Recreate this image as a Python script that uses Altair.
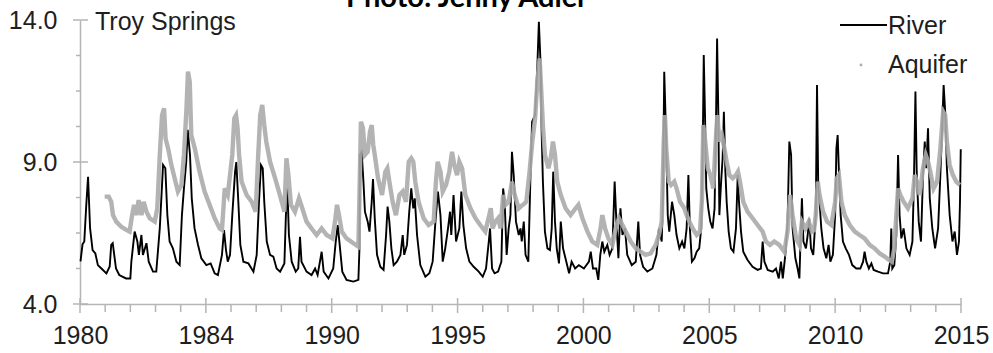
import altair as alt
import pandas as pd

# ---------------- data ----------------
RIVER_YEAR = [
    1980.02, 1980.1, 1980.17, 1980.25, 1980.32, 1980.4, 1980.5, 1980.61, 1980.71, 1980.85,
    1981.05, 1981.18, 1981.24, 1981.3, 1981.43, 1981.56, 1981.83, 1982.0, 1982.04, 1982.17,
    1982.28, 1982.34, 1982.44, 1982.5, 1982.64, 1982.73, 1982.9, 1983.03, 1983.17, 1983.3,
    1983.39, 1983.47, 1983.56, 1983.69, 1983.83, 1983.96, 1984.05, 1984.13, 1984.22, 1984.28,
    1984.37, 1984.44, 1984.55, 1984.69, 1984.82, 1985.02, 1985.19, 1985.35, 1985.48, 1985.64,
    1985.72, 1985.8, 1985.87, 1985.96, 1986.05, 1986.16, 1986.21, 1986.29, 1986.37, 1986.49,
    1986.69, 1986.89, 1987.02, 1987.11, 1987.19, 1987.26, 1987.32, 1987.42, 1987.55, 1987.68,
    1987.81, 1987.95, 1988.12, 1988.18, 1988.24, 1988.3, 1988.41, 1988.57, 1988.67, 1988.74,
    1988.8, 1989.0, 1989.2, 1989.34, 1989.44, 1989.6, 1989.68, 1989.87, 1990.06, 1990.16,
    1990.24, 1990.33, 1990.42, 1990.59, 1990.86, 1991.06, 1991.1, 1991.12, 1991.19, 1991.26,
    1991.32, 1991.43, 1991.5, 1991.59, 1991.64, 1991.71, 1991.8, 1991.93, 1992.06, 1992.16,
    1992.22, 1992.29, 1992.37, 1992.46, 1992.59, 1992.73, 1992.82, 1992.88, 1992.99, 1993.08,
    1993.16, 1993.24, 1993.3, 1993.39, 1993.52, 1993.72, 1993.88, 1994.01, 1994.12, 1994.22,
    1994.32, 1994.41, 1994.51, 1994.62, 1994.7, 1994.75, 1994.84, 1994.94, 1995.07, 1995.15,
    1995.23, 1995.34, 1995.47, 1995.64, 1995.84, 1996.0, 1996.13, 1996.24, 1996.29, 1996.37,
    1996.47, 1996.61, 1996.74, 1996.81, 1996.87, 1996.95, 1997.03, 1997.1, 1997.16, 1997.23,
    1997.32, 1997.43, 1997.5, 1997.55, 1997.63, 1997.7, 1997.81, 1997.9, 1997.96, 1998.08,
    1998.17, 1998.23, 1998.3, 1998.34, 1998.39, 1998.47, 1998.57, 1998.67, 1998.74, 1998.8,
    1998.87, 1998.94, 1999.03, 1999.1, 1999.19, 1999.32, 1999.43, 1999.53, 1999.67, 1999.82,
    2000.02, 2000.22, 2000.29, 2000.38, 2000.51, 2000.59, 2000.67, 2000.75, 2000.83, 2000.95,
    2001.04, 2001.15, 2001.24, 2001.31, 2001.39, 2001.47, 2001.55, 2001.65, 2001.74, 2001.92,
    2002.08, 2002.18, 2002.25, 2002.37, 2002.54, 2002.74, 2002.9, 2003.0, 2003.11, 2003.16,
    2003.21, 2003.28, 2003.35, 2003.41, 2003.52, 2003.61, 2003.7, 2003.81, 2003.92, 2004.01,
    2004.1, 2004.17, 2004.23, 2004.31, 2004.41, 2004.5, 2004.6, 2004.68, 2004.74, 2004.78,
    2004.83, 2004.88, 2004.96, 2005.04, 2005.13, 2005.21, 2005.27, 2005.31, 2005.36, 2005.4,
    2005.47, 2005.53, 2005.58, 2005.64, 2005.69, 2005.77, 2005.86, 2005.96, 2006.06, 2006.13,
    2006.18, 2006.26, 2006.35, 2006.52, 2006.72, 2006.92, 2007.05, 2007.12, 2007.19, 2007.32,
    2007.52, 2007.65, 2007.76, 2007.85, 2007.92, 2008.02, 2008.11, 2008.18, 2008.25, 2008.31,
    2008.42, 2008.51, 2008.58, 2008.64, 2008.68, 2008.74, 2008.84, 2008.91, 2008.97, 2009.04,
    2009.13, 2009.23, 2009.28, 2009.33, 2009.38, 2009.45, 2009.54, 2009.65, 2009.74, 2009.81,
    2009.91, 2010.0, 2010.05, 2010.1, 2010.15, 2010.22, 2010.31, 2010.42, 2010.55, 2010.68,
    2010.84, 2011.0, 2011.11, 2011.17, 2011.24, 2011.34, 2011.44, 2011.53, 2011.7, 2011.9,
    2012.1, 2012.19, 2012.23, 2012.27, 2012.35, 2012.43, 2012.5, 2012.56, 2012.63, 2012.72,
    2012.83, 2012.96, 2013.07, 2013.13, 2013.19, 2013.24, 2013.32, 2013.41, 2013.49, 2013.56,
    2013.62, 2013.69, 2013.76, 2013.86, 2013.97, 2014.09, 2014.18, 2014.25, 2014.31, 2014.38,
    2014.44, 2014.55, 2014.66, 2014.75, 2014.84, 2014.92, 2014.96, 2014.99,
]
RIVER_LEVEL = [
    5.5, 6.1, 6.2, 7.5, 8.48, 6.67, 5.9, 5.78, 5.37, 5.25,
    5.08, 5.32, 6.08, 6.14, 5.25, 5.02, 4.9, 4.9, 5.49, 6.55,
    6.2, 5.73, 6.43, 5.73, 6.14, 5.49, 5.14, 5.14, 6.67, 8.9,
    8.78, 7.14, 6.2, 5.96, 5.49, 5.37, 7.14, 8.08, 9.0, 10.13,
    9.25, 7.72, 6.67, 6.08, 5.61, 5.37, 5.43, 5.08, 5.02, 5.73,
    6.6, 5.9, 5.49, 5.73, 7.13, 8.66, 9.0, 7.6, 6.08, 5.49,
    5.43, 5.14, 5.73, 7.6, 8.89, 8.78, 7.6, 6.2, 5.73, 5.67,
    5.25, 5.14, 5.43, 7.13, 8.07, 6.43, 5.49, 5.14, 5.25, 6.37,
    5.49, 5.14, 5.02, 5.25, 5.02, 5.84, 5.14, 4.9, 5.25, 6.2,
    6.78, 5.96, 5.14, 4.85, 4.79, 4.85, 5.9, 9.25, 9.36, 8.31,
    7.25, 6.9, 6.55, 7.6, 8.4, 7.02, 5.73, 5.31, 5.2, 6.43,
    7.43, 6.9, 5.96, 5.37, 5.49, 5.73, 6.43, 5.73, 6.08, 7.25,
    8.07, 7.37, 7.72, 6.43, 5.37, 4.96, 5.08, 5.49, 6.9, 7.96,
    7.13, 5.49, 5.96, 6.66, 7.25, 6.43, 7.84, 6.2, 6.66, 7.96,
    6.78, 5.96, 5.49, 5.31, 5.14, 4.96, 5.25, 6.2, 6.66, 5.25,
    5.08, 5.14, 5.49, 8.07, 7.6, 5.73, 6.66, 7.13, 9.36, 8.54,
    6.9, 6.43, 6.66, 6.2, 6.9, 5.73, 5.49, 8.66, 10.42, 10.65,
    12.4, 13.94, 12.4, 10.07, 8.31, 6.55, 5.96, 5.9, 6.66, 8.66,
    6.9, 5.96, 5.43, 6.9, 5.96, 5.49, 5.08, 5.49, 5.25, 5.37,
    5.25, 5.49, 5.84, 5.25, 5.25, 4.85, 5.73, 6.2, 5.84, 6.08,
    5.73, 5.96, 8.31, 6.9, 5.61, 7.37, 6.43, 6.66, 5.73, 5.37,
    5.49, 6.9, 5.73, 5.31, 5.14, 5.25, 5.73, 6.66, 6.2, 7.72,
    12.18, 10.07, 7.13, 6.55, 7.6, 7.13, 6.43, 5.96, 6.2, 5.96,
    6.66, 8.54, 6.66, 5.49, 5.61, 5.84, 5.96, 6.66, 9.48, 12.77,
    10.65, 8.07, 7.37, 6.9, 6.66, 7.37, 10.65, 13.35, 10.65, 7.13,
    8.31, 9.13, 10.77, 8.66, 7.6, 6.55, 5.96, 5.84, 6.66, 8.54,
    7.6, 6.55, 5.84, 5.55, 5.31, 5.2, 5.25, 6.2, 5.49, 5.2,
    5.14, 5.25, 4.9, 5.49, 4.9, 5.73, 6.9, 9.72, 9.25, 6.66,
    5.61, 5.25, 4.9, 6.66, 7.72, 6.2, 5.96, 6.43, 7.02, 5.96,
    5.73, 7.13, 11.71, 8.07, 7.6, 6.66, 5.96, 5.61, 6.08, 5.49,
    5.73, 7.13, 9.48, 9.95, 8.66, 7.13, 6.2, 5.96, 5.73, 5.37,
    5.25, 5.25, 5.49, 5.84, 5.49, 5.25, 5.43, 5.2, 5.14, 5.08,
    5.08, 5.49, 6.66, 5.25, 5.37, 6.43, 9.25, 7.13, 6.31, 6.66,
    5.96, 5.73, 6.2, 8.31, 11.48, 8.66, 6.9, 6.2, 8.54, 9.72,
    8.78, 10.19, 7.72, 6.66, 5.96, 6.66, 8.54, 10.19, 11.71, 10.65,
    8.78, 7.13, 6.2, 6.55, 5.73, 6.2, 7.6, 9.45,
]
AQUIFER_YEAR = [
    1980.98, 1981.14, 1981.24, 1981.31, 1981.44, 1981.64, 1981.84, 1981.97, 1982.07, 1982.15,
    1982.24, 1982.33, 1982.44, 1982.53, 1982.64, 1982.77, 1982.97, 1983.07, 1983.17, 1983.26,
    1983.34, 1983.4, 1983.5, 1983.63, 1983.76, 1983.89, 1984.03, 1984.13, 1984.23, 1984.29,
    1984.36, 1984.42, 1984.56, 1984.75, 1984.95, 1985.15, 1985.35, 1985.55, 1985.64, 1985.75,
    1985.87, 1985.96, 1986.05, 1986.13, 1986.2, 1986.26, 1986.32, 1986.42, 1986.62, 1986.82,
    1986.98, 1987.08, 1987.16, 1987.24, 1987.32, 1987.4, 1987.55, 1987.75, 1987.94, 1988.12,
    1988.2, 1988.28, 1988.38, 1988.54, 1988.7, 1988.83, 1989.0, 1989.2, 1989.4, 1989.6,
    1989.8, 1990.03, 1990.13, 1990.21, 1990.29, 1990.4, 1990.59, 1990.86, 1991.06, 1991.1,
    1991.16, 1991.24, 1991.32, 1991.43, 1991.52, 1991.59, 1991.65, 1991.71, 1991.84, 1992.0,
    1992.13, 1992.21, 1992.29, 1992.42, 1992.55, 1992.69, 1992.82, 1992.95, 1993.06, 1993.16,
    1993.24, 1993.32, 1993.45, 1993.65, 1993.85, 1994.05, 1994.14, 1994.21, 1994.32, 1994.41,
    1994.54, 1994.67, 1994.78, 1994.87, 1994.98, 1995.07, 1995.18, 1995.31, 1995.51, 1995.71,
    1995.9, 1996.1, 1996.26, 1996.32, 1996.39, 1996.5, 1996.61, 1996.71, 1996.81, 1996.9,
    1997.03, 1997.16, 1997.27, 1997.43, 1997.53, 1997.6, 1997.73, 1997.86, 1997.97, 1998.08,
    1998.17, 1998.26, 1998.34, 1998.39, 1998.47, 1998.61, 1998.7, 1998.79, 1998.87, 1998.96,
    1999.1, 1999.29, 1999.49, 1999.69, 1999.8, 1999.96, 2000.16, 2000.35, 2000.55, 2000.68,
    2000.75, 2000.86, 2000.99, 2001.15, 2001.28, 2001.41, 2001.55, 2001.68, 2001.88, 2002.08,
    2002.27, 2002.47, 2002.67, 2002.87, 2003.0, 2003.11, 2003.19, 2003.24, 2003.29, 2003.39,
    2003.48, 2003.61, 2003.7, 2003.84, 2004.01, 2004.1, 2004.21, 2004.34, 2004.5, 2004.63,
    2004.71, 2004.76, 2004.84, 2004.94, 2005.04, 2005.16, 2005.24, 2005.32, 2005.4, 2005.5,
    2005.6, 2005.69, 2005.8, 2005.93, 2006.06, 2006.14, 2006.22, 2006.35, 2006.52, 2006.72,
    2006.92, 2007.12, 2007.25, 2007.41, 2007.58, 2007.78, 2007.98, 2008.11, 2008.21, 2008.31,
    2008.45, 2008.58, 2008.68, 2008.82, 2008.95, 2009.08, 2009.16, 2009.23, 2009.31, 2009.38,
    2009.52, 2009.68, 2009.85, 2010.0, 2010.07, 2010.15, 2010.25, 2010.38, 2010.58, 2010.78,
    2010.97, 2011.17, 2011.37, 2011.57, 2011.77, 2011.97, 2012.14, 2012.25, 2012.35, 2012.43,
    2012.5, 2012.59, 2012.72, 2012.89, 2013.07, 2013.16, 2013.25, 2013.36, 2013.49, 2013.6,
    2013.69, 2013.78, 2013.91, 2014.05, 2014.18, 2014.29, 2014.37, 2014.44, 2014.55, 2014.68,
    2014.81, 2014.95,
]
AQUIFER_LEVEL = [
    7.78, 7.78, 7.6, 7.13, 6.9, 6.72, 6.61, 6.55, 7.13, 7.49,
    7.13, 7.66, 7.13, 7.6, 7.25, 7.02, 6.9, 7.37, 9.25, 10.65,
    10.89, 9.83, 9.48, 8.89, 8.43, 7.96, 8.19, 9.25, 10.89, 12.18,
    11.83, 9.95, 9.48, 8.66, 7.96, 7.49, 7.02, 6.66, 6.61, 8.07,
    7.84, 8.54, 9.25, 10.54, 10.65, 10.19, 9.25, 8.31, 7.84, 7.6,
    7.25, 9.25, 10.65, 11.01, 10.3, 9.72, 9.01, 8.43, 7.84, 7.25,
    9.13, 8.54, 7.49, 7.25, 7.72, 7.37, 6.9, 6.66, 6.43, 6.66,
    6.43, 6.31, 6.9, 7.49, 7.13, 6.55, 6.31, 6.14, 6.02, 7.72,
    10.42, 10.19, 9.25, 9.36, 10.07, 10.3, 9.6, 9.25, 8.43, 7.84,
    8.66, 8.78, 8.31, 7.6, 7.13, 7.84, 7.96, 7.6, 9.01, 9.13,
    9.01, 8.31, 7.6, 7.02, 6.78, 6.9, 8.31, 9.01, 8.66, 7.96,
    8.19, 8.66, 9.36, 8.89, 8.54, 9.01, 8.78, 7.84, 7.37, 7.02,
    6.78, 6.55, 7.13, 7.37, 6.66, 6.9, 7.02, 6.66, 7.84, 7.49,
    7.6, 8.31, 7.84, 7.37, 7.45, 7.49, 7.6, 8.66, 9.72, 10.54,
    11.83, 12.65, 11.24, 10.3, 9.25, 8.78, 9.13, 9.72, 9.25, 8.31,
    7.84, 7.37, 7.13, 7.37, 7.49, 7.02, 6.55, 6.2, 6.08, 6.66,
    7.13, 6.66, 6.31, 6.08, 6.66, 7.02, 6.78, 6.55, 6.2, 5.96,
    5.84, 5.73, 5.78, 6.08, 6.43, 6.9, 9.72, 10.65, 9.48, 8.31,
    8.19, 8.31, 8.07, 7.6, 7.37, 7.13, 6.9, 6.66, 6.43, 6.55,
    7.72, 10.3, 9.72, 8.78, 8.54, 8.07, 9.48, 10.65, 9.72, 9.95,
    9.48, 9.01, 8.54, 8.43, 8.54, 8.66, 8.31, 7.6, 7.25, 7.02,
    6.78, 6.55, 6.2, 6.08, 6.2, 6.08, 5.84, 6.55, 7.84, 7.13,
    6.31, 6.08, 6.9, 6.66, 6.9, 6.55, 6.6, 7.13, 8.31, 7.84,
    7.25, 6.9, 6.78, 7.6, 8.43, 8.54, 7.6, 7.13, 6.78, 6.55,
    6.43, 6.31, 6.08, 5.96, 5.78, 5.67, 5.55, 5.49, 5.96, 7.13,
    8.07, 7.84, 7.6, 7.37, 7.72, 8.54, 8.31, 7.84, 8.78, 9.25,
    9.01, 8.66, 8.07, 8.31, 9.48, 10.77, 10.65, 9.72, 8.89, 8.54,
    8.31, 8.19,
]

X_TICK_VALUES = [1980, 1985, 1990, 1995, 2000, 2005, 2010, 2015]
X_TICK_LABELS = ["1980", "1984", "1990", "1995", "2000", "2005", "2010", "2015"]
X_MINOR_TICKS = [1981, 1982, 1983, 1984, 1986, 1987, 1988, 1989, 1991, 1992, 1993, 1994,
                 1996, 1997, 1998, 1999, 2001, 2002, 2003, 2004, 2006, 2007, 2008, 2009,
                 2011, 2012, 2013, 2014]
Y_TICK_VALUES = [4, 9, 14]
Y_MINOR_TICKS = [5.25, 6.5, 7.75, 10.25, 11.5, 12.75]

SITE_LABEL = ["Troy Springs"]
CREDIT_LABEL = ["Photo: Jenny Adler"]
SERIES_NAMES = ["River", "Aquifer"]

# ---------------- style ----------------
FONT = "Liberation Sans"
AXIS_GREY = "#b5b5b5"
TEXT_COLOR = "#1e1e1e"
AQ_GREY = "#ababab"
W, H = 881, 284

x_scale = alt.Scale(domain=[1980, 2015], nice=False, zero=False)
y_scale = alt.Scale(domain=[4, 14], nice=False, zero=False)

label_expr = "''"
for v, lab in reversed(list(zip(X_TICK_VALUES, X_TICK_LABELS))):
    label_expr = f"datum.value == {v} ? '{lab}' : {label_expr}"

x_axis = alt.Axis(values=X_TICK_VALUES, labelExpr=label_expr, ticks=False,
                  grid=False, domainColor=AXIS_GREY, domainWidth=1.5,
                  labelFontSize=25, labelFont=FONT, labelColor=TEXT_COLOR,
                  labelPadding=19, labelFlush=False, title=None)
y_axis = alt.Axis(values=Y_TICK_VALUES, format=".1f", ticks=False, grid=False,
                  domainColor=AXIS_GREY, domainWidth=1.5,
                  labelFontSize=25, labelFont=FONT, labelColor=TEXT_COLOR,
                  labelPadding=23, labelFlush=False, title=None)

river_df = pd.DataFrame({"year": RIVER_YEAR, "level": RIVER_LEVEL,
                         "order": list(range(len(RIVER_YEAR)))})
aq_df = pd.DataFrame({"year": AQUIFER_YEAR, "level": AQUIFER_LEVEL,
                      "order": list(range(len(AQUIFER_YEAR)))})

river = alt.Chart(river_df).mark_line(color="#000000", strokeWidth=1.9).encode(
    x=alt.X("year:Q", scale=x_scale, axis=x_axis),
    y=alt.Y("level:Q", scale=y_scale, axis=y_axis),
    order="order:Q",
)

aquifer = alt.Chart(aq_df).mark_line(color=AQ_GREY, strokeWidth=4.4, opacity=0.9).encode(
    x=alt.X("year:Q", scale=x_scale, axis=x_axis),
    y=alt.Y("level:Q", scale=y_scale, axis=y_axis),
    order="order:Q",
)

x_major = alt.Chart(pd.DataFrame({"year": X_TICK_VALUES})).mark_rule(
    color=AXIS_GREY, strokeWidth=1.5).encode(
    x=alt.X("year:Q", scale=x_scale, axis=x_axis), y=alt.value(H - 6), y2=alt.value(H + 9))
x_minor = alt.Chart(pd.DataFrame({"year": X_MINOR_TICKS})).mark_rule(
    color=AXIS_GREY, strokeWidth=1.5).encode(
    x=alt.X("year:Q", scale=x_scale, axis=x_axis), y=alt.value(H), y2=alt.value(H + 8))
y_major = alt.Chart(pd.DataFrame({"level": Y_TICK_VALUES})).mark_rule(
    color=AXIS_GREY, strokeWidth=1.5).encode(
    y=alt.Y("level:Q", scale=y_scale, axis=y_axis), x=alt.value(-7), x2=alt.value(8))
y_minor = alt.Chart(pd.DataFrame({"level": Y_MINOR_TICKS})).mark_rule(
    color=AXIS_GREY, strokeWidth=1.5).encode(
    y=alt.Y("level:Q", scale=y_scale, axis=y_axis), x=alt.value(-4), x2=alt.value(0))

site = alt.Chart(pd.DataFrame({"t": SITE_LABEL})).mark_text(
    align="left", baseline="alphabetic", font=FONT, fontSize=25, color=TEXT_COLOR).encode(
    text="t:N", x=alt.value(15), y=alt.value(10))

credit = alt.Chart(pd.DataFrame({"t": CREDIT_LABEL})).mark_text(
    align="center", baseline="alphabetic", font="Lato", fontWeight="bold",
    fontSize=29, color="#000000").encode(
    text="t:N", x=alt.value(387), y=alt.value(-13))

leg_line = alt.Chart(pd.DataFrame({"s": SERIES_NAMES[:1]})).mark_rule(
    color="#000000", strokeWidth=1.9).encode(
    x=alt.value(760), x2=alt.value(807), y=alt.value(5))
leg_dot = alt.Chart(pd.DataFrame({"s": SERIES_NAMES[1:]})).mark_point(
    filled=True, color=AQ_GREY, size=8, opacity=1).encode(
    x=alt.value(781), y=alt.value(45))
leg_river = alt.Chart(pd.DataFrame({"s": SERIES_NAMES[:1]})).mark_text(
    align="left", baseline="alphabetic", font=FONT, fontSize=25, color=TEXT_COLOR).encode(
    text="s:N", x=alt.value(808), y=alt.value(14))
leg_aq = alt.Chart(pd.DataFrame({"s": SERIES_NAMES[1:]})).mark_text(
    align="left", baseline="alphabetic", font=FONT, fontSize=25, color=TEXT_COLOR).encode(
    text="s:N", x=alt.value(808), y=alt.value(53))

chart = alt.layer(
    river, aquifer, x_major, x_minor, y_major, y_minor,
    site, credit, leg_line, leg_dot, leg_river, leg_aq,
).properties(
    width=W, height=H,
    autosize=alt.AutoSizeParams(type="none"),
    padding={"left": 80, "top": 20, "right": 32, "bottom": 49},
    background="white",
).configure_view(stroke=None)

chart.save("out.html", embed_options={"renderer": "svg", "actions": False})
